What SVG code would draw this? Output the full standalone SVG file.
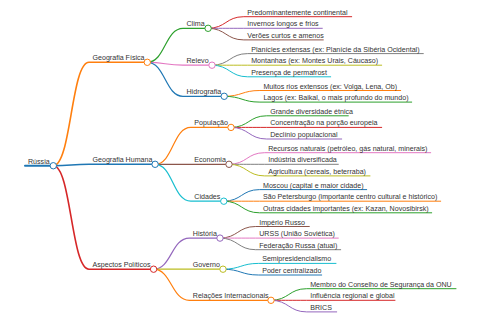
<svg xmlns="http://www.w3.org/2000/svg" width="480" height="320" viewBox="0 0 480 320">
<style>
text{font-family:"Liberation Sans",Arial,Helvetica,sans-serif;font-size:7.1px;fill:#333}
.l{fill:none;stroke-linecap:round}
.d0{stroke-width:2}
.d1{stroke-width:1.6}
.d2{stroke-width:1.2}
.d3{stroke-width:1}
circle{fill:#fff;stroke-width:1}
.blue{stroke:#1f77b4}.orange{stroke:#ff7f0e}.green{stroke:#2ca02c}.red{stroke:#d62728}.purple{stroke:#9467bd}.brown{stroke:#8c564b}.pink{stroke:#e377c2}.grey{stroke:#7f7f7f}.olive{stroke:#bcbd22}.cyan{stroke:#17becf}
</style>
<rect width="480" height="320" fill="#fff"/>
<g id="connectors">
<path class="l d0 blue" d="M25,165.75 H53.3"/>
<path class="l d1 orange" d="M53.3,165.75 C71.15,165.75 71.15,62.3 89,62.3 H147.3"/>
<path class="l d1 blue" d="M53.3,165.75 C71.15,165.75 71.15,164.3 89,164.3 H155.1"/>
<path class="l d1 red" d="M53.3,165.75 C71.15,165.75 71.15,269.2 89,269.2 H153.6"/>
<path class="l d2 green" d="M147.3,62.3 C165.15,62.3 165.15,28.3 183,28.3 H208.1"/>
<path class="l d2 pink" d="M147.3,62.3 C165.15,62.3 165.15,65.2 183,65.2 H212"/>
<path class="l d2 blue" d="M147.3,62.3 C165.15,62.3 165.15,96.3 183,96.3 H224.2"/>
<path class="l d2 orange" d="M155.1,164.3 C172.95,164.3 172.95,127.4 190.8,127.4 H231"/>
<path class="l d2 brown" d="M155.1,164.3 C172.95,164.3 172.95,164.3 190.8,164.3 H229"/>
<path class="l d2 cyan" d="M155.1,164.3 C172.95,164.3 172.95,201.2 190.8,201.2 H223.8"/>
<path class="l d2 purple" d="M153.6,269.2 C171.45,269.2 171.45,238.1 189.3,238.1 H220"/>
<path class="l d2 olive" d="M153.6,269.2 C171.45,269.2 171.45,269.2 189.3,269.2 H223"/>
<path class="l d2 orange" d="M153.6,269.2 C171.45,269.2 171.45,300.3 189.3,300.3 H271"/>
<path class="l d3 red" d="M208.1,28.3 C225.95,28.3 225.95,16.7 243.8,16.7 H351.7"/>
<path class="l d3 purple" d="M208.1,28.3 C225.95,28.3 225.95,28.3 243.8,28.3 H322.3"/>
<path class="l d3 brown" d="M208.1,28.3 C225.95,28.3 225.95,39.9 243.8,39.9 H323.3"/>
<path class="l d3 grey" d="M212,65.2 C229.85,65.2 229.85,53.6 247.7,53.6 H423.3"/>
<path class="l d3 olive" d="M212,65.2 C229.85,65.2 229.85,65.2 247.7,65.2 H381.7"/>
<path class="l d3 cyan" d="M212,65.2 C229.85,65.2 229.85,76.8 247.7,76.8 H330.7"/>
<path class="l d3 orange" d="M224.2,96.3 C242.05,96.3 242.05,90.5 259.9,90.5 H400.7"/>
<path class="l d3 green" d="M224.2,96.3 C242.05,96.3 242.05,102.1 259.9,102.1 H411.7"/>
<path class="l d3 green" d="M231,127.4 C248.85,127.4 248.85,115.8 266.7,115.8 H348.3"/>
<path class="l d3 red" d="M231,127.4 C248.85,127.4 248.85,127.4 266.7,127.4 H381.7"/>
<path class="l d3 purple" d="M231,127.4 C248.85,127.4 248.85,139 266.7,139 H341.7"/>
<path class="l d3 pink" d="M229,164.3 C246.85,164.3 246.85,152.7 264.7,152.7 H430.7"/>
<path class="l d3 grey" d="M229,164.3 C246.85,164.3 246.85,164.3 264.7,164.3 H338.3"/>
<path class="l d3 olive" d="M229,164.3 C246.85,164.3 246.85,175.9 264.7,175.9 H370"/>
<path class="l d3 blue" d="M223.8,201.2 C241.65,201.2 241.65,189.6 259.5,189.6 H366.7"/>
<path class="l d3 orange" d="M223.8,201.2 C241.65,201.2 241.65,201.2 259.5,201.2 H440.7"/>
<path class="l d3 green" d="M223.8,201.2 C241.65,201.2 241.65,212.8 259.5,212.8 H431.7"/>
<path class="l d3 brown" d="M220,238.1 C237.85,238.1 237.85,226.5 255.7,226.5 H309.3"/>
<path class="l d3 pink" d="M220,238.1 C237.85,238.1 237.85,238.1 255.7,238.1 H338.3"/>
<path class="l d3 grey" d="M220,238.1 C237.85,238.1 237.85,249.7 255.7,249.7 H340.7"/>
<path class="l d3 cyan" d="M223,269.2 C240.85,269.2 240.85,263.4 258.7,263.4 H336"/>
<path class="l d3 blue" d="M223,269.2 C240.85,269.2 240.85,275 258.7,275 H321.7"/>
<path class="l d3 green" d="M271,300.3 C288.85,300.3 288.85,288.7 306.7,288.7 H456"/>
<path class="l d3 red" d="M271,300.3 C288.85,300.3 288.85,300.3 306.7,300.3 H395"/>
<path class="l d3 purple" d="M271,300.3 C288.85,300.3 288.85,311.9 306.7,311.9 H336.7"/>
</g>
<g id="node-russia"><text x="28" y="163.7">Rússia</text><circle class="blue" cx="53.3" cy="165.75" r="3.2"/></g>
<g id="node-geografia-fisica"><text x="92.5" y="60.3">Geografia Física</text><circle class="orange" cx="147.3" cy="62.3" r="3.2"/></g>
<g id="node-geografia-humana"><text x="92.5" y="162.3">Geografia Humana</text><circle class="blue" cx="155.1" cy="164.3" r="3.2"/></g>
<g id="node-aspectos-politicos"><text x="92.5" y="267.2">Aspectos Políticos</text><circle class="red" cx="153.6" cy="269.2" r="3.2"/></g>
<g id="node-clima"><text x="186.5" y="26.3">Clima</text><circle class="green" cx="208.1" cy="28.3" r="3.2"/></g>
<g id="node-relevo"><text x="186.5" y="63.2">Relevo</text><circle class="pink" cx="212" cy="65.2" r="3.2"/></g>
<g id="node-hidrografia"><text x="186.5" y="94.3">Hidrografia</text><circle class="blue" cx="224.2" cy="96.3" r="3.2"/></g>
<g id="node-populacao"><text x="194.3" y="125.4">População</text><circle class="orange" cx="231" cy="127.4" r="3.2"/></g>
<g id="node-economia"><text x="194.3" y="162.3">Economia</text><circle class="brown" cx="229" cy="164.3" r="3.2"/></g>
<g id="node-cidades"><text x="194.3" y="199.2">Cidades</text><circle class="cyan" cx="223.8" cy="201.2" r="3.2"/></g>
<g id="node-historia"><text x="192.8" y="236.1">História</text><circle class="purple" cx="220" cy="238.1" r="3.2"/></g>
<g id="node-governo"><text x="192.8" y="267.2">Governo</text><circle class="olive" cx="223" cy="269.2" r="3.2"/></g>
<g id="node-relacoes"><text x="192.8" y="298.3">Relações Internacionais</text><circle class="orange" cx="271" cy="300.3" r="3.2"/></g>
<g id="leaf-1"><text x="247.3" y="14.7">Predominantemente continental</text></g>
<g id="leaf-2"><text x="247.3" y="26.3">Invernos longos e frios</text></g>
<g id="leaf-3"><text x="247.3" y="37.9">Verões curtos e amenos</text></g>
<g id="leaf-4"><text x="251.2" y="51.6">Planícies extensas (ex: Planície da Sibéria Ocidental)</text></g>
<g id="leaf-5"><text x="251.2" y="63.2">Montanhas (ex: Montes Urais, Cáucaso)</text></g>
<g id="leaf-6"><text x="251.2" y="74.8">Presença de permafrost</text></g>
<g id="leaf-7"><text x="263.4" y="88.5">Muitos rios extensos (ex: Volga, Lena, Ob)</text></g>
<g id="leaf-8"><text x="263.4" y="100.1">Lagos (ex: Baikal, o mais profundo do mundo)</text></g>
<g id="leaf-9"><text x="270.2" y="113.8">Grande diversidade étnica</text></g>
<g id="leaf-10"><text x="270.2" y="125.4">Concentração na porção europeia</text></g>
<g id="leaf-11"><text x="270.2" y="137">Declínio populacional</text></g>
<g id="leaf-12"><text x="268.2" y="150.7">Recursos naturais (petróleo, gás natural, minerais)</text></g>
<g id="leaf-13"><text x="268.2" y="162.3">Indústria diversificada</text></g>
<g id="leaf-14"><text x="268.2" y="173.9">Agricultura (cereais, beterraba)</text></g>
<g id="leaf-15"><text x="263" y="187.6">Moscou (capital e maior cidade)</text></g>
<g id="leaf-16"><text x="263" y="199.2">São Petersburgo (importante centro cultural e histórico)</text></g>
<g id="leaf-17"><text x="263" y="210.8">Outras cidades importantes (ex: Kazan, Novosibirsk)</text></g>
<g id="leaf-18"><text x="259.2" y="224.5">Império Russo</text></g>
<g id="leaf-19"><text x="259.2" y="236.1">URSS (União Soviética)</text></g>
<g id="leaf-20"><text x="259.2" y="247.7">Federação Russa (atual)</text></g>
<g id="leaf-21"><text x="262.2" y="261.4">Semipresidencialismo</text></g>
<g id="leaf-22"><text x="262.2" y="273">Poder centralizado</text></g>
<g id="leaf-23"><text x="310.2" y="286.7">Membro do Conselho de Segurança da ONU</text></g>
<g id="leaf-24"><text x="310.2" y="298.3">Influência regional e global</text></g>
<g id="leaf-25"><text x="310.2" y="309.9">BRICS</text></g>
</svg>
